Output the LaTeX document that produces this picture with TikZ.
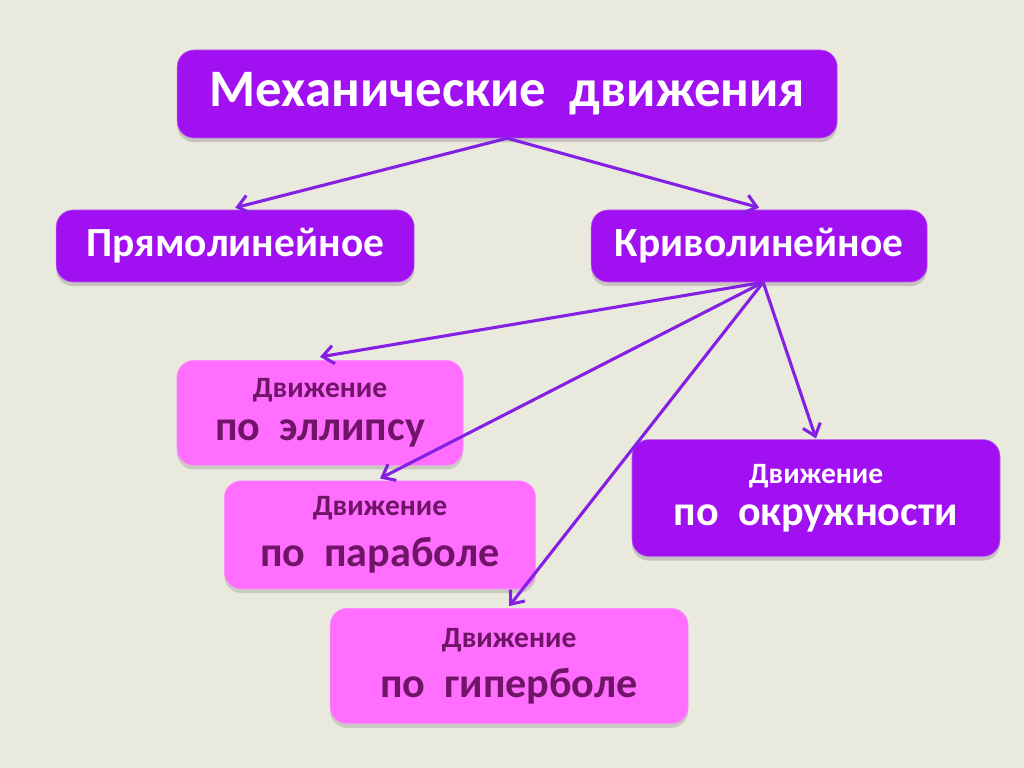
\documentclass[tikz,border=0pt]{standalone}
\usepackage{fontspec}
\setmainfont{Carlito}
\definecolor{mvbg}{RGB}{234,233,222}
\definecolor{mvpurple}{RGB}{160,16,240}
\definecolor{mvpink}{RGB}{255,110,255}
\definecolor{mvplum}{RGB}{112,20,104}
\definecolor{mvarrow}{RGB}{132,32,228}
\usepackage{tikz}
\usetikzlibrary{arrows.meta,positioning,shadows}

\newcommand{\twoline}[2]{{\fontsize{21}{24}\selectfont #1}\\[11pt]{\fontsize{30}{34}\selectfont #2}}

\begin{document}
\begin{tikzpicture}[
  mainbox/.style={fill=mvpurple, draw=mvpurple!70!white, thin, rounded corners=12pt,
    text=white, font=\bfseries, align=center, inner sep=0pt,
    drop shadow={opacity=0.35, shadow xshift=0pt, shadow yshift=-3pt}},
  pinkbox/.style={fill=mvpink, draw=mvpink!80!white, thin, rounded corners=12pt,
    text=mvplum, font=\bfseries, align=center, inner sep=0pt,
    drop shadow={opacity=0.3, shadow xshift=0pt, shadow yshift=-3pt}},
  link/.style={-{Straight Barb[length=8pt,width=13pt]}, mvarrow, line width=2.2pt}]

\fill[mvbg] (0,0) rectangle (25.6,19.2);
\useasboundingbox (0,0) rectangle (25.6,19.2);

\node[mainbox, minimum width=16.5cm, minimum height=2.2cm] (mech) at (12.68,16.85)
  {\fontsize{37.5}{40}\selectfont Механические\ \ движения};

\node[mainbox, minimum width=8.95cm, minimum height=1.8cm] (line) at (5.88,13.05)
  {\fontsize{29.5}{32}\selectfont Прямолинейное};
\node[mainbox, minimum width=8.4cm, minimum height=1.8cm] (curve) at (18.98,13.05)
  {\fontsize{29.5}{32}\selectfont Криволинейное};

\node[pinkbox, minimum width=7.15cm, minimum height=2.62cm] (ellipse) at (8.0,8.88)
  {\twoline{Движение}{по\ \ эллипсу}};
\node[pinkbox, minimum width=7.78cm, minimum height=2.7cm] (parab) at (9.5,5.83)
  {\twoline{Движение}{по\ \ параболе}};
\node[pinkbox, minimum width=8.95cm, minimum height=2.88cm] (hyper) at (12.73,2.55)
  {\twoline{Движение}{по\ \ гиперболе}};
\node[mainbox, minimum width=9.2cm, minimum height=2.92cm] (circ) at (20.4,6.75)
  {\twoline{Движение}{по\ \ окружности}};

% Arrows
\draw[link] (mech.south) -- ([shift={(0,0.05)}]line.north);
\draw[link] (mech.south) -- ([shift={(0,0.05)}]curve.north);
\draw[link] ([xshift=0.1cm]curve.south) -- ([yshift=0.08cm]ellipse.north);
\draw[link] ([xshift=0.1cm]curve.south) -- ([yshift=0.05cm]parab.north);
\draw[link] ([xshift=0.1cm]curve.south) -- ([yshift=0.05cm]hyper.north);
\draw[link] ([xshift=0.1cm]curve.south) -- ([yshift=0.02cm]circ.north);

\end{tikzpicture}
\end{document}
